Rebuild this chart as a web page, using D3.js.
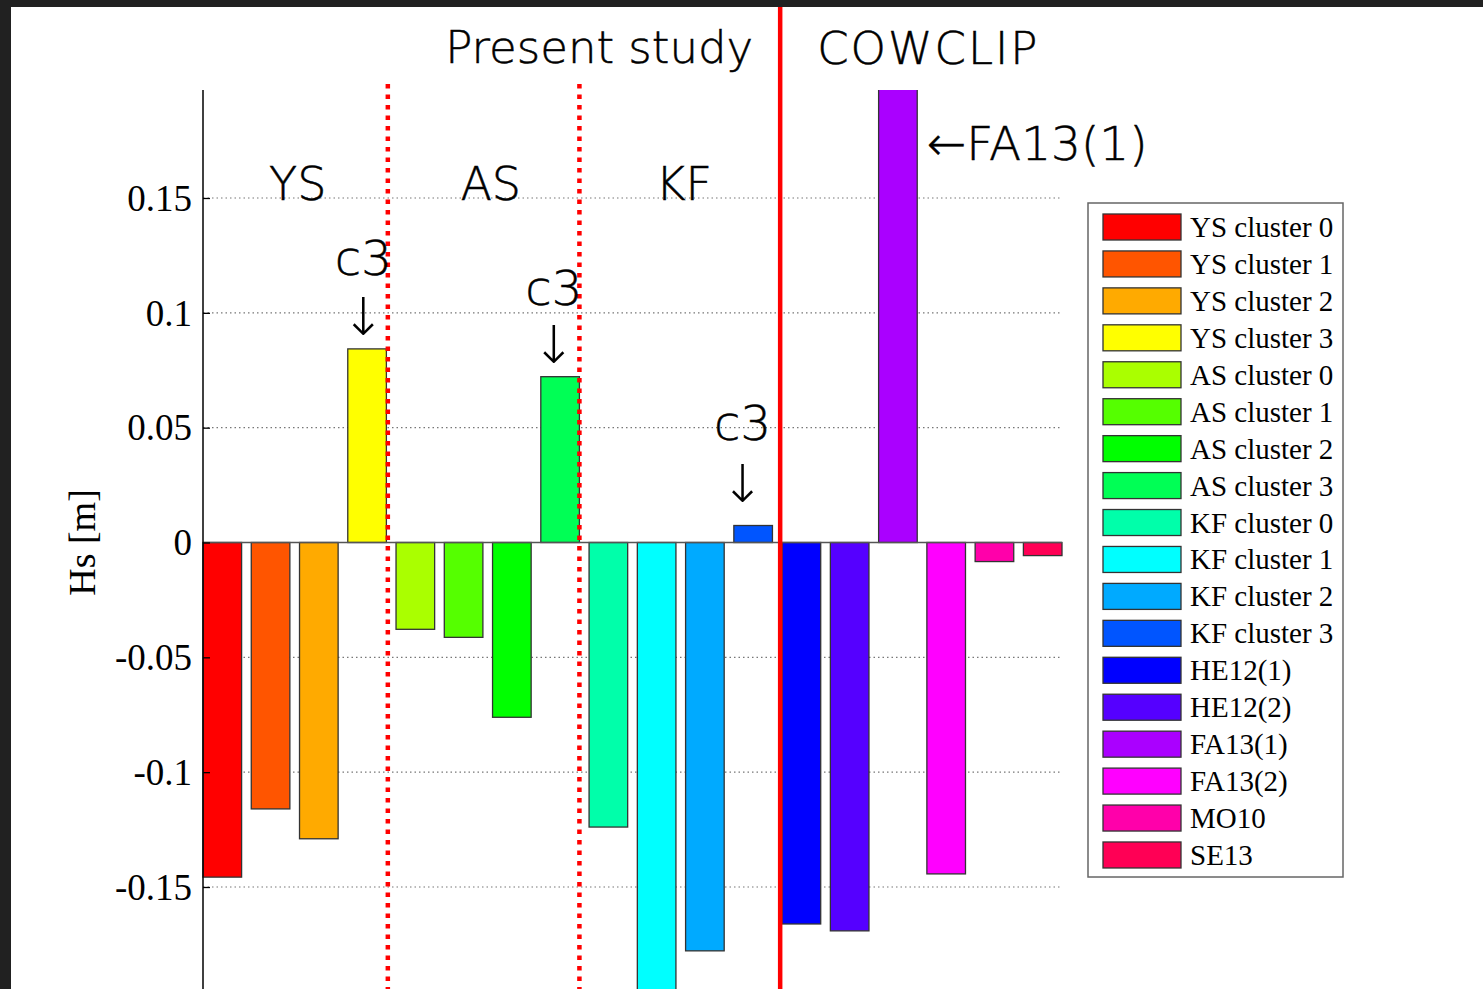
<!DOCTYPE html>
<html>
<head>
<meta charset="utf-8">
<script src="https://cdn.jsdelivr.net/npm/d3@7"></script>
<style>
  html, body { margin: 0; padding: 0; background: #212121; }
  svg { display: block; }
</style>
</head>
<body>
<svg id="chart" width="1483" height="989"></svg>
<script>
const categories = ["YS cluster 0","YS cluster 1","YS cluster 2","YS cluster 3",
  "AS cluster 0","AS cluster 1","AS cluster 2","AS cluster 3",
  "KF cluster 0","KF cluster 1","KF cluster 2","KF cluster 3",
  "HE12(1)","HE12(2)","FA13(1)","FA13(2)","MO10","SE13"];
const values = [-0.1457, -0.116, -0.129, 0.0843,
  -0.0378, -0.0413, -0.0761, 0.0722,
  -0.1239, -0.215, -0.1778, 0.0074,
  -0.1661, -0.1691, 0.21, -0.1443, -0.0083, -0.0057];
const colors = ["#FF0000","#FF5500","#FFAA00","#FFFF00",
  "#AAFF00","#55FF00","#00FF00","#00FF55",
  "#00FFAA","#00FFFF","#00AAFF","#0055FF",
  "#0000FF","#5500FF","#AA00FF","#FF00FF","#FF00AA","#FF0055"];
const yTicks = [-0.15, -0.1, -0.05, 0, 0.05, 0.1, 0.15];
const yTickLabels = ["-0.15", "-0.1", "-0.05", "0", "0.05", "0.1", "0.15"];
const groupLabels = ["YS", "AS", "KF"];
const groupCenters = [2.5, 6.5, 10.5];
const c3LabelX = [3.92, 7.87, 11.78];
const c3LabelY = [0.1165, 0.1035, 0.0448];
const c3ArrowY = [0.0904, 0.0783, 0.0178];
const dividerPositions = [4.43, 8.40];
const sourceDivider = 12.56;
const yMax = 0.197;

const svg = d3.select("#chart");
svg.append("rect").attr("x", 11).attr("y", 7).attr("width", 1483 - 11).attr("height", 989 - 7).attr("fill", "#fff");

const x = d3.scaleLinear().domain([0.6, 18.4]).range([203, 1062]);
const y = d3.scaleLinear().domain([-0.15, 0.15]).range([887, 198]);
const plotBottom = 989;

const defs = svg.append("defs");
defs.append("clipPath").attr("id", "plotclip").append("rect")
  .attr("x", x(0.6) - 2).attr("y", y(yMax)).attr("width", x(18.4) - x(0.6) + 4).attr("height", plotBottom - y(yMax));

// gridlines
svg.append("g").selectAll("line").data(yTicks).join("line")
  .attr("x1", x(0.6)).attr("x2", x(18.4))
  .attr("y1", d => y(d)).attr("y2", d => y(d))
  .attr("stroke", "#777").attr("stroke-width", 1.2).attr("stroke-dasharray", "1.5,3");

// bars
const bars = svg.append("g").attr("clip-path", "url(#plotclip)");
bars.selectAll("rect").data(values).join("rect")
  .attr("x", (d, i) => x(i + 1 - 0.4))
  .attr("width", (d, i) => x(i + 1 + 0.4) - x(i + 1 - 0.4))
  .attr("y", d => y(Math.max(0, d)))
  .attr("height", d => Math.abs(y(d) - y(0)))
  .attr("fill", (d, i) => colors[i])
  .attr("stroke", "#333").attr("stroke-width", 1.3);

// baseline
svg.append("line").attr("x1", x(0.6)).attr("x2", x(18.4)).attr("y1", y(0)).attr("y2", y(0))
  .attr("stroke", "#555").attr("stroke-width", 1.3);

// y axis
const yAxis = d3.axisLeft(y).tickValues(yTicks).tickFormat((d, i) => yTickLabels[i]).tickSize(-7).tickPadding(11);
const ga = svg.append("g").attr("transform", `translate(${x(0.6)},0)`).call(yAxis);
ga.select(".domain").remove();
ga.selectAll(".tick line").attr("stroke", "#000").attr("stroke-width", 1.3);
ga.selectAll(".tick text").attr("font-family", "Liberation Serif, Times New Roman, serif")
  .attr("font-size", 37).attr("fill", "#000").attr("dy", "0.33em");
svg.append("line").attr("x1", x(0.6)).attr("x2", x(0.6)).attr("y1", y(yMax)).attr("y2", plotBottom)
  .attr("stroke", "#000").attr("stroke-width", 1.5);

svg.append("text").attr("transform", `translate(95,${y(0)}) rotate(-90)`)
  .attr("text-anchor", "middle").attr("font-family", "Liberation Serif, Times New Roman, serif")
  .attr("font-size", 38).attr("fill", "#000").text("Hs [m]");

// dividers
svg.append("g").selectAll("line").data(dividerPositions).join("line")
  .attr("x1", d => x(d)).attr("x2", d => x(d)).attr("y1", 84).attr("y2", plotBottom)
  .attr("stroke", "#FF0000").attr("stroke-width", 4.5).attr("stroke-dasharray", "4.5,6");
svg.append("line").attr("x1", x(sourceDivider)).attr("x2", x(sourceDivider)).attr("y1", 7).attr("y2", plotBottom)
  .attr("stroke", "#FF0000").attr("stroke-width", 4.5);

const sansFont = "DejaVu Sans, sans-serif";
const sansWeight = 200;
// titles
svg.append("text").attr("x", x(sourceDivider) - 27).attr("y", 63).attr("text-anchor", "end")
  .attr("font-family", sansFont).attr("font-weight", sansWeight).attr("font-size", 45).attr("fill", "#000")
  .attr("stroke", "#000").attr("stroke-width", 0.5).text("Present study");
svg.append("text").attr("x", x(sourceDivider) + 37).attr("y", 64).attr("text-anchor", "start")
  .attr("font-family", sansFont).attr("font-weight", sansWeight).attr("font-size", 45).attr("fill", "#000")
  .attr("stroke", "#000").attr("stroke-width", 0.5).attr("letter-spacing", 2).text("COWCLIP");

// group labels
svg.append("g").selectAll("text").data(groupLabels).join("text")
  .attr("x", (d, i) => x(groupCenters[i]) + 3).attr("y", 200).attr("text-anchor", "middle")
  .attr("font-family", sansFont).attr("font-weight", sansWeight).attr("font-size", 46).attr("fill", "#000")
  .attr("stroke", "#000").attr("stroke-width", 0.5).text(d => d);

// c3 annotations
const ann = svg.append("g").selectAll("g").data(c3LabelX).join("g");
ann.append("text").attr("x", d => x(d)).attr("y", (d, i) => y(c3LabelY[i]))
  .attr("text-anchor", "middle").attr("font-family", sansFont).attr("font-weight", sansWeight)
  .attr("font-size", 48).attr("fill", "#000").attr("stroke", "#000").attr("stroke-width", 0.5).text("c3");
ann.append("text").attr("x", d => x(d)).attr("y", (d, i) => y(c3ArrowY[i]))
  .attr("text-anchor", "middle").attr("font-family", sansFont).attr("font-weight", sansWeight)
  .attr("font-size", 52).attr("fill", "#000").text("↓");

svg.append("text").attr("x", x(15) + 29).attr("y", 160).attr("text-anchor", "start")
  .attr("font-family", sansFont).attr("font-weight", sansWeight).attr("font-size", 47).attr("fill", "#000")
  .attr("stroke", "#000").attr("stroke-width", 0.5).text("←FA13(1)");

// legend
const lg = svg.append("g");
lg.append("rect").attr("x", 1088).attr("y", 203).attr("width", 255).attr("height", 674)
  .attr("fill", "#fff").attr("stroke", "#666").attr("stroke-width", 1.5);
const items = lg.selectAll("g.item").data(categories).join("g").attr("class", "item")
  .attr("transform", (d, i) => `translate(1103,${214 + i * 36.94})`);
items.append("rect").attr("width", 78).attr("height", 26).attr("fill", (d, i) => colors[i])
  .attr("stroke", "#333").attr("stroke-width", 1.3);
items.append("text").attr("x", 87).attr("y", 23).attr("font-family", "Liberation Serif, Times New Roman, serif")
  .attr("font-size", 29).attr("fill", "#000").text(d => d);
</script>
</body>
</html>
